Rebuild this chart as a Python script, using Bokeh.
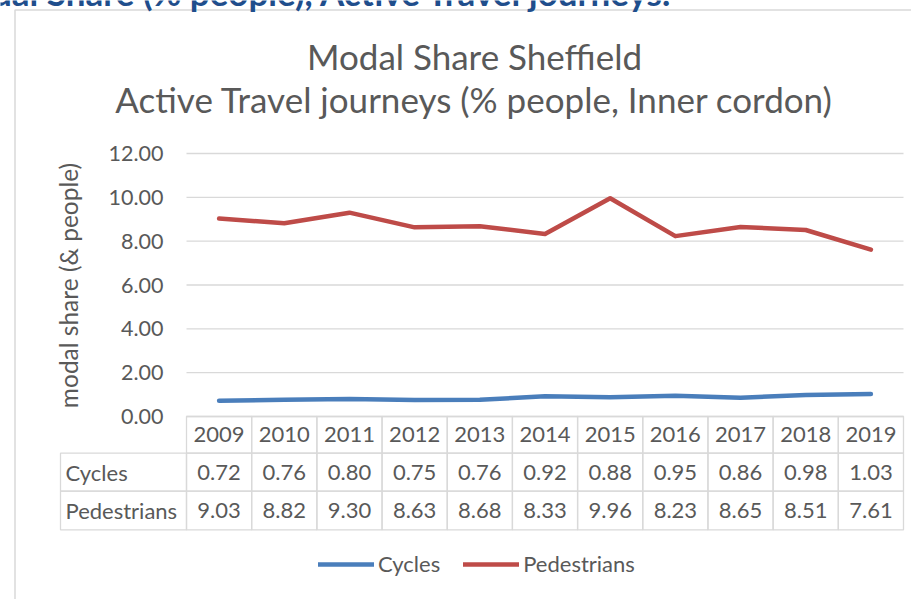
import math
from bokeh.plotting import figure
from bokeh.models import Range1d, Legend
from bokeh.core.properties import value
from bokeh.embed import file_html
from bokeh.resources import INLINE

# ---------------- data ----------------
years = [2009, 2010, 2011, 2012, 2013, 2014, 2015, 2016, 2017, 2018, 2019]
cycles = [0.72, 0.76, 0.80, 0.75, 0.76, 0.92, 0.88, 0.95, 0.86, 0.98, 1.03]
pedestrians = [9.03, 8.82, 9.30, 8.63, 8.68, 8.33, 9.96, 8.23, 8.65, 8.51, 7.61]
series_names = ["Cycles", "Pedestrians"]
y_ticks = [0, 2, 4, 6, 8, 10, 12]
chart_title = ["Modal Share Sheffield", "Active Travel journeys (% people, Inner cordon)"]
y_title = "modal share (& people)"
page_heading = "Modal Share (% people), Active Travel journeys."

# ---------------- layout constants (canvas px) ----------------
W, H = 911, 599
FL, FR, FT, FB = 186, 903, 153, 416          # plot area in canvas pixels
X0, X1 = years[0] - 0.5, years[-1] + 0.5
Y0, Y1 = y_ticks[0], y_ticks[-1]

def dx(px):
    return X0 + (px - FL) * (X1 - X0) / (FR - FL)

def dy(py):
    return Y1 - (py - FT) * (Y1 - Y0) / (FB - FT)

GREY = "#595959"
GRID = "#D9D9D9"
BLUE = "#4A7EBB"
RED = "#BE4B48"
FONT = "Lato"
FS = "22px"

p = figure(width=W, height=H, output_backend="svg", toolbar_location=None,
           x_range=Range1d(dx(0), dx(W)), y_range=Range1d(dy(H), dy(0)),
           x_axis_location=None, y_axis_location=None, min_border=0, title=None)
p.outline_line_color = None
p.background_fill_color = "white"
p.border_fill_color = "white"
for g in p.grid:
    g.visible = False

# chart border
p.quad(left=[dx(14.5)], right=[dx(990)], top=[dy(9.5)], bottom=[dy(720)],
       fill_alpha=0, line_color=GRID, line_width=1.5)

# horizontal gridlines
p.segment(x0=[X0] * len(y_ticks), y0=y_ticks, x1=[X1] * len(y_ticks), y1=y_ticks,
          line_color=GRID, line_width=1.3)

# y tick labels and title
p.text(x=[dx(163)] * len(y_ticks), y=y_ticks, text=[f"{t:.2f}" for t in y_ticks],
       text_align="right", text_baseline="middle", text_font=value(FONT),
       text_font_size="21.5px", text_color=GREY)
p.text(x=[dx(68)], y=[dy(285)], text=[y_title], angle=math.pi / 2, text_align="center",
       text_baseline="middle", text_font=value(FONT), text_font_size="24.5px", text_color=GREY)

# data table
row_top = [FB, 452.7, 490.7]
row_bot = [452.7, 490.7, 529.3]
for r in range(3):
    lefts = [yr - 0.5 for yr in years]
    rights = [yr + 0.5 for yr in years]
    if r > 0:
        lefts = [dx(60)] + lefts
        rights = [X0] + rights
    p.quad(left=lefts, right=rights, top=[dy(row_top[r])] * len(lefts),
           bottom=[dy(row_bot[r])] * len(lefts), fill_alpha=0, line_color=GRID, line_width=1.3)

p.text(x=years, y=[dy((row_top[0] + row_bot[0]) / 2)] * len(years), text=[str(y) for y in years],
       text_align="center", text_baseline="middle", text_font=value(FONT),
       text_font_size=FS, text_color=GREY)
for r, (name, vals) in enumerate(zip(series_names, [cycles, pedestrians]), start=1):
    yc = dy((row_top[r] + row_bot[r]) / 2)
    p.text(x=years, y=[yc] * len(years), text=[f"{v:.2f}" for v in vals],
           text_align="center", text_baseline="middle", text_font=value(FONT),
           text_font_size=FS, text_color=GREY)
    p.text(x=[dx(65)], y=[yc], text=[name], text_align="left", text_baseline="middle",
           text_font=value(FONT), text_font_size=FS, text_color=GREY)

# series
r1 = p.line(years, cycles, line_width=4.5, color=BLUE, line_cap="round", line_join="round")
r2 = p.line(years, pedestrians, line_width=4.5, color=RED, line_cap="round", line_join="round")

legend = Legend(items=[(series_names[0], [r1]), (series_names[1], [r2])],
                orientation="horizontal", location=(318, 22),
                glyph_width=56, glyph_height=20, label_standoff=4, spacing=23,
                padding=0, margin=0, border_line_color=None, background_fill_alpha=0,
                label_text_font=FONT, label_text_font_size=FS, label_text_color=GREY,
                label_height=20)
p.add_layout(legend, "center")

# titles
p.text(x=[dx(474), dx(474)], y=[dy(55.5), dy(98.5)], text=chart_title, text_align="center",
       text_baseline="middle", text_font=value(FONT), text_font_size="35px", text_color=GREY)

# page heading fragment (cut off at the top edge, as in the reference)
p.text(x=[dx(672)], y=[dy(-9)], text=[page_heading], text_align="right",
       text_baseline="middle", text_font=value(FONT), text_font_style="bold",
       text_font_size="35px", text_color="#1F4E8C")

html = file_html(p, INLINE)
html = html.replace("</head>", "<style>html, body {margin:0; padding:0; overflow:hidden;}</style></head>", 1)
open("out.html", "w").write(html)
